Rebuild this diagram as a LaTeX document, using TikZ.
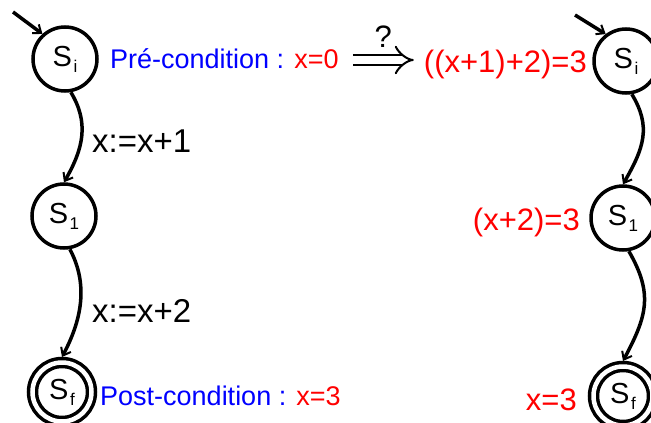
\documentclass[tikz,border=0pt]{standalone}
\usepackage{fontspec}
\setmainfont{Liberation Sans}
\usetikzlibrary{arrows.meta,calc}
\definecolor{cblue}{RGB}{0,0,255}
\definecolor{cred}{RGB}{255,0,0}
\newcommand\stname[1]{{\fontsize{29}{29}\selectfont S}\hspace{1.5pt}\raisebox{-6pt}{\fontsize{17}{17}\selectfont #1}}
\begin{document}
\begin{tikzpicture}[x=1pt,y=1pt,
  state/.style={circle,draw,line width=3.5pt,minimum size=64pt,inner sep=0pt},
  accept/.style={circle,draw,line width=3.5pt,double,double distance=4.5pt,minimum size=59pt,inner sep=0pt,outer sep=5.5pt},
  trans/.style={line width=3.5pt,-{Straight Barb[length=7pt,width=11pt,line width=2pt]}},
  lbl/.style={inner sep=0pt,anchor=base west,font=\fontsize{33}{33}\selectfont},
  cond/.style={inner sep=0pt,anchor=base west,font=\fontsize{27}{27}\selectfont},
  wpre/.style={inner sep=0pt,anchor=base east,text=cred,font=\fontsize{31}{31}\selectfont},
  implies/.style={line width=2pt,double,double distance=8pt,-{Implies}}
]
\useasboundingbox (0,0) rectangle (651,-423);
% left automaton
\node[state] (si) at (65,-59) {\stname{i}};
\node[state] (s1) at (64,-216) {\stname{1}};
\node[accept] (sf) at (62,-392) {\stname{f}};
\coordinate (ini) at (13,-12);
\draw[trans] (ini) -- (si.132);
\draw[trans] (si.-80) .. controls +(-59:35) and +(60:40) .. (s1.north);
\draw[trans] (s1.-80) .. controls +(-62:40) and +(62:42) .. (sf.north);
\node[lbl] (l1) at (92,-152) {x:=x+1};
\node[lbl] (l2) at (92,-322) {x:=x+2};
\node[cond] (pre) at (110,-68) {\textcolor{cblue}{Pré-condition :} \textcolor{cred}{x=0}};
\node[cond] (post) at (100,-405) {\textcolor{cblue}{Post-condition :} \textcolor{cred}{x=3}};
% right automaton
\node[state] (ri) at (626,-61) {\stname{i}};
\node[state] (r1) at (623,-218) {\stname{1}};
\node[accept] (rf) at (623,-396) {\stname{f}};
\coordinate (rini) at (575,-15);
\draw[trans] (rini) -- (ri.127);
\draw[trans] (ri.-80) .. controls +(-59:38) and +(60:42) .. (r1.north);
\draw[trans] (r1.-80) .. controls +(-60:50) and +(62:50) .. (rf.north);
\node[wpre] (wp) at (587,-72) {((x+1)+2)=3};
\node[wpre] (w1) at (580,-230) {(x+2)=3};
\node[wpre] (wf) at (577,-410) {x=3};
% implication
\draw[implies] ([xshift=14pt,yshift=8pt]pre.base east) -- ([xshift=-10pt,yshift=12pt]wp.base west) node[midway,above=12pt,inner sep=0pt,font=\fontsize{31}{31}\selectfont] (q) {?};
\end{tikzpicture}
\end{document}
